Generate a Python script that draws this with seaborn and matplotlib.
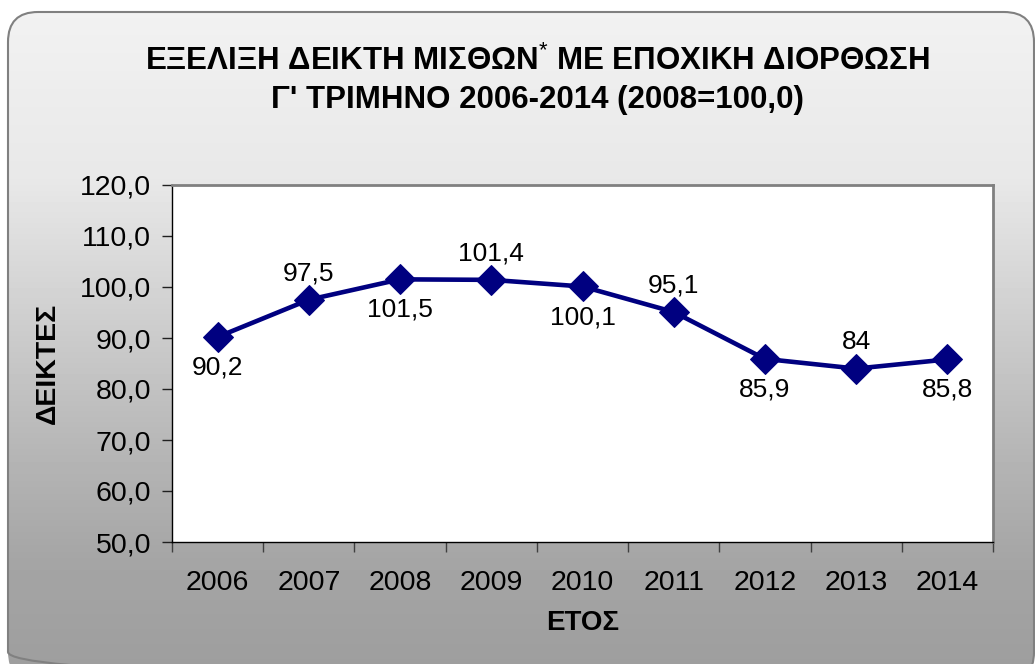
import seaborn as sns
import pandas as pd
import matplotlib.pyplot as plt
import numpy as np
from matplotlib.patches import FancyBboxPatch
from matplotlib.ticker import FixedLocator

years = ['2006', '2007', '2008', '2009', '2010', '2011', '2012', '2013', '2014']
index_values = [90.2, 97.5, 101.5, 101.4, 100.1, 95.1, 85.9, 84, 85.8]
y_ticks = [50, 60, 70, 80, 90, 100, 110, 120]

title = 'ΕΞΕΛΙΞΗ ΔΕΙΚΤΗ ΜΙΣΘΩΝ$^{*}$ ΜΕ ΕΠΟΧΙΚΗ ΔΙΟΡΘΩΣΗ\nΓ\' ΤΡΙΜΗΝΟ 2006-2014 (2008=100,0)'
x_label = 'ΕΤΟΣ'
y_label = 'ΔΕΙΚΤΕΣ'

df = pd.DataFrame({'year': years, 'value': index_values})

sns.set_theme(style='white')
plt.rcParams['font.family'] = ['Liberation Sans', 'DejaVu Sans']
plt.rcParams['mathtext.fontset'] = 'custom'
plt.rcParams['mathtext.rm'] = 'Liberation Sans'
plt.rcParams['text.color'] = 'black'
plt.rcParams['axes.labelcolor'] = 'black'

W, H = 1035, 664
fig = plt.figure(figsize=(W / 100, H / 100), dpi=100)
fig.patch.set_facecolor('white')

# gradient background in a rounded box
bg = fig.add_axes([0, 0, 1, 1], zorder=-1)
bg.set_xlim(0, W)
bg.set_ylim(H, 0)
bg.axis('off')
rows = np.arange(H)
shade = np.interp(rows, [0, 180, 450, 560, 664], [242, 232, 182, 165, 158]) / 255
grad = np.repeat(shade[:, None], 2, axis=1)
img = bg.imshow(grad, cmap='gray', vmin=0, vmax=1, extent=[0, W, H, 0], aspect='auto')
box = FancyBboxPatch((8, 12), 1026, 670, boxstyle='round,pad=0,rounding_size=30',
                     facecolor='none', edgecolor='#808080', linewidth=1.5, transform=bg.transData)
bg.add_patch(box)
img.set_clip_path(box)

ax = fig.add_axes([172 / W, (H - 542) / H, 821 / W, 357 / H])
ax.set_facecolor('white')
sns.lineplot(data=df, x='year', y='value', ax=ax, color='#000080', linewidth=3.3,
             marker='D', markersize=15, markeredgecolor='#000080', sort=False)

for i, v in enumerate(index_values):
    lab = f'{v:g}'.replace('.', ',')
    dy = -22 if i % 2 == 0 else 19
    ax.annotate(lab, (i, v), xytext=(0, dy), textcoords='offset points',
                ha='center', va='center', fontsize=19, color='black')

ax.set_xlim(-0.5, len(years) - 0.5)
ax.set_ylim(50, 120)
ax.set_yticks(y_ticks)
ax.set_yticklabels([f'{t:.1f}'.replace('.', ',') for t in y_ticks])
ax.xaxis.set_minor_locator(FixedLocator(np.arange(-0.5, len(years), 1)))
ax.tick_params(axis='x', which='major', length=0, pad=20, labelsize=20.5, labelcolor='black')
ax.tick_params(axis='x', which='minor', length=7, width=1, direction='out', color='#404040', bottom=True)
ax.tick_params(axis='y', which='major', length=7, width=1, direction='out', pad=8,
               labelsize=20.5, color='#202020', labelcolor='black', left=True)

for s in ['left', 'bottom']:
    ax.spines[s].set_color('black')
    ax.spines[s].set_linewidth(1)
for s in ['top', 'right']:
    ax.spines[s].set_color('#808080')
    ax.spines[s].set_linewidth(2)

ax.set_xlabel(x_label, fontsize=20, fontweight='bold', labelpad=10, color='black')
ax.set_ylabel(y_label, fontsize=20.5, fontweight='bold', labelpad=14, color='black')

fig.text(537 / W, 1 - 80 / H, title, ha='center', va='center', fontsize=22.5,
         fontweight='bold', linespacing=1.35, color='black')

fig.savefig('out.png', dpi=100)
